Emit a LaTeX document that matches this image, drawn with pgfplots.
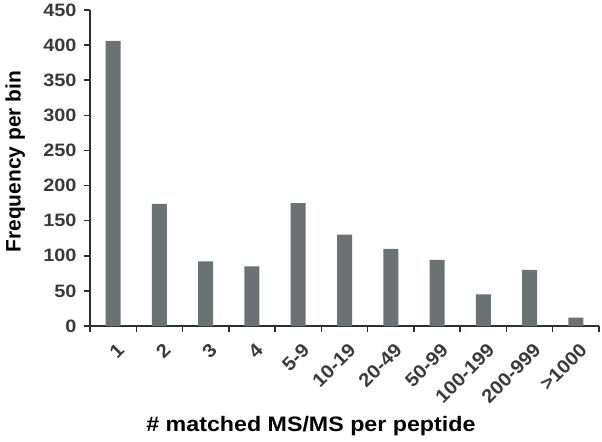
\documentclass[border=0pt]{standalone}
\usepackage{pgfplots}
\pgfplotsset{compat=1.18}
\usepackage{fontspec}
\setmainfont{Liberation Sans}[FakeStretch=1.11]
\newfontfamily\ylabfont{Liberation Sans}
\newfontfamily\xtfont{Liberation Sans}[FakeStretch=1.07]
\definecolor{barc}{HTML}{6B7274}
\definecolor{axc}{HTML}{2E2E2E}
\definecolor{tickc}{HTML}{3A3A3A}
\begin{document}
\begin{tikzpicture}
\begin{axis}[
  name=ax,
  scale only axis,
  width=509bp, height=316bp,
  xmin=-0.5, xmax=10.5, ymin=0, ymax=450,
  axis lines*=left,
  axis line style={axc, line width=1.5pt, -},
  ytick={0,50,...,450},
  xtick={-0.5,0.5,...,10.5},
  xticklabels={},
  tick align=outside,
  major tick length=6bp,
  tick style={axc, line width=1.5pt},
  extra x ticks={0,1,2,3,4,5,6,7,8,9,10},
  extra x tick labels={1,2,3,4,5-9,10-19,20-49,50-99,100-199,200-999,>1000},
  extra x tick style={major tick length=0pt, tick label style={xshift=3bp, yshift=-16bp, rotate=45, anchor=north east, inner sep=0pt, font=\fontsize{19}{21}\selectfont\xtfont\bfseries}},
  tick label style={font=\fontsize{18}{20}\selectfont\bfseries, text=tickc},
  yticklabel style={xshift=-4bp},
  /pgf/number format/assume math mode=true,
  ylabel={\ylabfont Frequency per bin},
  xlabel={\# matched MS/MS per peptide},
  label style={font=\fontsize{21}{24}\selectfont\bfseries, text=black},
  ylabel style={at={(axis description cs:-0.147,0.52)}, anchor=center},
  xlabel style={at={(axis description cs:0.434,-0.316)}, anchor=center},
  clip=false,
]
\addplot[ybar, bar width=15bp, fill=barc, draw=none] coordinates {
  (0,406) (1,174) (2,92) (3,85) (4,175) (5,130) (6,110) (7,94) (8,45) (9,80) (10,12)
};
\end{axis}
\pgfresetboundingbox
\path ([xshift=-90bp,yshift=-116bp]ax.south west) rectangle ([xshift=3bp,yshift=10bp]ax.north east);
\end{tikzpicture}
\end{document}
